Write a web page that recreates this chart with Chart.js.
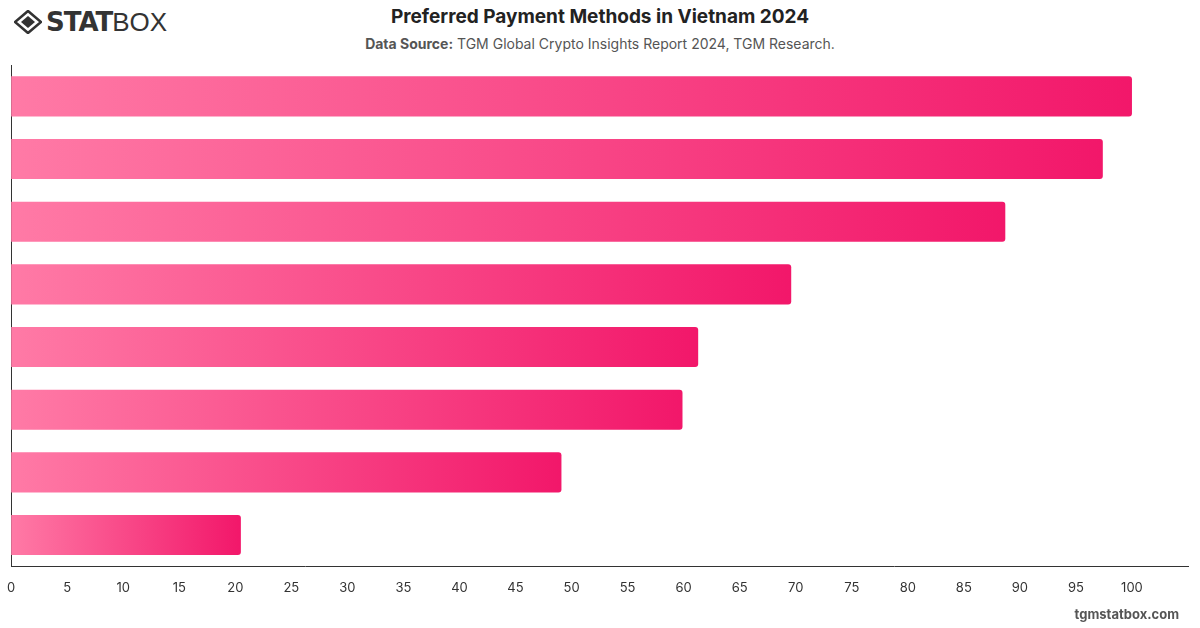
<!DOCTYPE html>
<html>
<head>
<meta charset="utf-8">
<script src="https://cdn.jsdelivr.net/npm/chart.js@4/dist/chart.umd.min.js"></script>
<style>
  html, body { margin:0; padding:0; background:#fff; width:1200px; height:628px; overflow:hidden; font-family: Inter, "Open Sans", sans-serif; }
  #title { position:absolute; top:5px; left:0; width:1200px; text-align:center; font-size:19px; font-weight:700; color:#222; }
  #sub { position:absolute; top:35px; left:0; width:1200px; text-align:center; font-size:14px; color:#555; }
  #sub b { font-weight:700; }
  #logo { position:absolute; top:6px; left:14px; height:32px; display:flex; align-items:center; }
  #logo .t1 { font-family: "DejaVu Sans", sans-serif; font-weight:900; font-size:26px; color:#333; letter-spacing:-1px; margin-left:4px; }
  #logo .t2 { font-family: "Liberation Sans", sans-serif; font-weight:300; font-size:26px; color:#333; }
  #foot { position:absolute; top:606px; right:21px; font-size:13px; font-weight:700; color:#555; }
  #wrap { position:absolute; top:60px; left:-7px; width:1207px; height:550px; }
</style>
</head>
<body>
<div id="logo">
  <svg width="28" height="24" viewBox="0 0 28 24">
    <polygon points="14,1 27,12 14,23 1,12" fill="none" stroke="#333" stroke-width="2.6"/>
    <polygon points="14,6 21,12 14,18 7,12" fill="#333"/>
  </svg>
  <span class="t1">STAT</span><span class="t2">BOX</span>
</div>
<div id="title">Preferred Payment Methods in Vietnam 2024</div>
<div id="sub"><b>Data Source:</b> TGM Global Crypto Insights Report 2024, TGM Research.</div>
<div id="wrap"><canvas id="c" width="1207" height="550"></canvas></div>
<div id="foot">tgmstatbox.com</div>
<script>
const categories = ["1", "2", "3", "4", "5", "6", "7", "8"];
const values = [100, 97.4, 88.7, 69.6, 61.3, 59.9, 49.1, 20.5];
const xTicks = [0,5,10,15,20,25,30,35,40,45,50,55,60,65,70,75,80,85,90,95,100];

function barGradient(ctx) {
  const chart = ctx.chart;
  const area = chart.chartArea;
  if (!area || ctx.parsed === undefined) return '#f8487f';
  const xs = chart.scales.x;
  const x0 = xs.getPixelForValue(0);
  const x1 = xs.getPixelForValue(ctx.parsed.x);
  const g = chart.ctx.createLinearGradient(x0, 0, Math.max(x1, x0 + 1), 0);
  g.addColorStop(0, '#ff7aa6');
  g.addColorStop(1, '#f2176a');
  return g;
}

new Chart(document.getElementById('c'), {
  type: 'bar',
  data: {
    labels: categories,
    datasets: [{
      data: values,
      backgroundColor: barGradient,
      borderRadius: { topLeft: 0, bottomLeft: 0, topRight: 3, bottomRight: 3 },
      borderSkipped: false,
      barPercentage: 0.8,
      categoryPercentage: 0.8
    }]
  },
  options: {
    indexAxis: 'y',
    responsive: false,
    animation: false,
    layout: { padding: { left: 11, right: 12, top: 5, bottom: 0 } },
    plugins: { legend: { display: false }, tooltip: { enabled: false } },
    scales: {
      x: {
        min: 0, max: 105,
        afterBuildTicks: (axis) => { axis.ticks = xTicks.map(v => ({ value: v })); },
        grid: { display: false, drawTicks: false },
        border: { display: true, color: '#333', width: 1 },
        ticks: { color: '#333', padding: 14, font: { family: 'Inter', size: 13 } }
      },
      y: {
        afterFit: (axis) => { axis.width = 0; },
        grid: { display: false, drawTicks: false },
        border: { display: true, color: '#333', width: 1 },
        ticks: { display: false }
      }
    }
  }
});
</script>
</body>
</html>
